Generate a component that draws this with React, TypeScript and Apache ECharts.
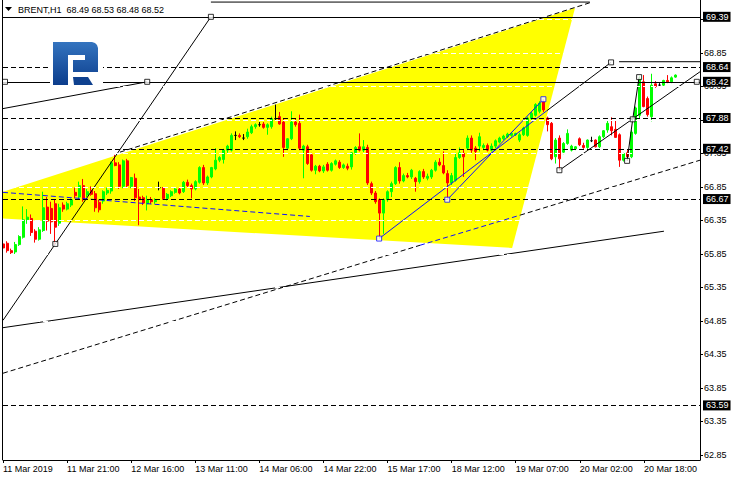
import React, { useEffect, useRef } from "react";
import * as echarts from "echarts";

const FONT = "'Liberation Sans', Arial, sans-serif";

// Hourly BRENT candles (bar index = position in arrays)
const opens = [66.00,66.01,65.90,65.88,65.99,66.10,66.36,66.38,66.19,66.07,66.20,66.55,66.53,66.60,66.31,66.58,66.52,66.58,66.77,66.70,66.87,66.73,66.80,66.75,66.62,66.64,66.76,66.79,67.21,67.18,66.86,67.24,66.86,66.98,66.70,66.69,66.60,66.66,66.63,66.84,66.83,66.68,66.72,66.77,66.82,66.78,66.92,66.87,66.82,66.92,67.14,66.91,67.00,67.12,67.25,67.26,67.40,67.40,67.62,67.62,67.58,67.60,67.66,67.75,67.78,67.79,67.74,67.75,67.87,67.90,67.82,67.43,67.57,67.82,67.80,67.40,67.45,67.33,67.10,67.16,67.09,67.19,67.10,67.19,67.22,67.14,67.16,67.15,67.36,67.45,67.40,67.44,66.90,66.76,66.66,66.46,66.66,66.78,66.90,67.14,66.94,67.02,67.00,66.98,66.93,67.08,66.98,67.00,67.10,67.22,67.17,67.05,66.91,66.95,67.29,67.35,67.43,67.58,67.43,67.46,67.44,67.47,67.40,67.46,67.52,67.57,67.60,67.62,67.63,67.55,67.63,67.62,67.87,67.92,67.98,68.12,67.88,67.80,67.30,67.58,67.37,67.50,67.40,67.42,67.57,67.47,67.44,67.54,67.55,67.45,67.60,67.70,67.75,67.71,67.63,67.25,67.36,67.30,67.65,67.92,68.42,68.17,67.90,68.39,68.37,68.37,68.44,68.42,68.49];
const highs = [66.07,66.04,65.93,66.03,66.13,66.56,66.52,66.44,66.22,66.25,66.78,66.70,66.63,66.66,66.60,66.62,66.63,66.68,66.84,66.93,66.97,66.82,66.86,66.79,66.66,66.80,66.84,67.23,67.33,67.22,67.26,67.27,67.00,67.05,66.82,66.72,66.72,66.70,66.68,66.93,66.85,66.76,66.80,66.84,66.85,66.94,66.96,66.90,66.95,67.16,67.18,67.02,67.15,67.43,67.31,67.42,67.48,67.65,67.68,67.65,67.64,67.72,67.78,67.80,67.82,67.82,67.80,67.90,68.08,67.97,67.88,67.58,67.98,67.87,67.93,67.48,67.48,67.36,67.18,67.18,67.18,67.22,67.22,67.26,67.25,67.20,67.20,67.37,67.46,67.65,67.55,67.48,66.93,66.79,66.68,66.68,66.80,66.93,67.16,67.22,67.05,67.06,67.12,67.00,67.10,67.12,67.05,67.12,67.25,67.28,67.38,67.10,67.06,67.36,67.44,67.40,67.62,67.62,67.46,67.66,67.50,67.50,67.50,67.56,67.60,67.63,67.66,67.67,67.66,67.66,67.75,67.90,67.97,68.10,68.13,68.16,67.90,67.82,67.58,67.62,67.52,67.71,67.48,67.46,67.59,67.51,67.56,67.60,67.56,67.62,67.70,67.85,67.89,67.85,67.65,67.36,67.40,67.70,68.05,68.51,68.52,68.20,68.54,68.43,68.40,68.45,68.52,68.50,68.53];
const lows = [65.91,65.87,65.85,65.84,65.97,66.08,66.30,66.12,66.02,66.05,66.18,66.20,66.15,66.00,66.27,66.48,66.50,66.55,66.68,66.66,66.63,66.70,66.72,66.48,66.47,66.60,66.73,66.75,67.16,66.82,66.83,66.84,66.83,66.64,66.28,66.58,66.50,66.60,66.60,66.80,66.66,66.65,66.70,66.75,66.74,66.76,66.85,66.68,66.80,66.90,66.88,66.88,66.98,67.10,67.22,67.20,67.36,67.38,67.55,67.58,67.55,67.57,67.64,67.72,67.75,67.72,67.63,67.72,67.85,67.78,67.30,67.40,67.55,67.75,67.40,66.98,67.18,67.08,67.04,67.07,67.06,67.08,67.08,67.17,67.12,67.12,67.10,67.11,67.33,67.38,67.37,66.88,66.73,66.60,66.08,66.15,66.63,66.70,66.88,66.90,66.92,66.98,66.97,66.78,66.90,66.97,66.95,66.97,67.08,67.16,67.04,66.66,66.88,66.93,67.27,67.00,67.40,67.36,67.25,67.38,67.40,67.38,67.38,67.43,67.50,67.55,67.58,67.60,67.61,67.52,67.61,67.60,67.85,67.90,67.95,67.97,67.68,67.25,67.20,67.10,67.34,67.48,67.38,67.40,67.46,67.42,67.42,67.52,67.44,67.43,67.58,67.66,67.62,67.59,67.15,67.23,67.24,67.28,67.63,67.88,68.04,67.90,67.83,68.33,68.35,68.35,68.40,68.40,68.48];
const closes = [65.94,65.90,65.87,65.99,66.11,66.36,66.40,66.17,66.07,66.21,66.54,66.34,66.33,66.25,66.54,66.52,66.60,66.66,66.72,66.87,66.66,66.78,66.74,66.54,66.51,66.78,66.80,67.21,67.17,66.86,67.24,66.87,66.99,66.69,66.66,66.61,66.66,66.63,66.65,66.84,66.68,66.74,66.78,66.82,66.76,66.92,66.87,66.82,66.93,67.14,66.91,67.00,67.14,67.25,67.29,67.40,67.46,67.62,67.62,67.60,67.58,67.67,67.75,67.78,67.78,67.74,67.78,67.87,67.87,67.79,67.44,67.57,67.82,67.78,67.43,67.46,67.20,67.10,67.16,67.09,67.15,67.10,67.20,67.24,67.14,67.18,67.13,67.36,67.44,67.40,67.45,66.91,66.76,66.63,66.46,66.66,66.78,66.90,67.14,66.94,67.02,67.00,67.10,66.93,67.08,67.00,67.01,67.10,67.22,67.18,67.06,66.91,67.02,67.29,67.36,67.30,67.58,67.40,67.38,67.60,67.47,67.40,67.46,67.54,67.58,67.61,67.64,67.65,67.65,67.63,67.73,67.88,67.95,68.08,68.10,68.00,67.78,67.27,67.55,67.27,67.50,67.65,67.46,67.45,67.48,67.44,67.55,67.54,67.45,67.60,67.69,67.80,67.69,67.59,67.25,67.35,67.30,67.67,68.03,68.47,68.05,67.93,68.37,68.35,68.37,68.44,68.42,68.48,68.52];

const xTickBars = [0, 16, 32, 48, 64, 80, 96, 112, 128, 144, 160];
const xTickLabels = ["11 Mar 2019", "11 Mar 21:00", "12 Mar 16:00", "13 Mar 11:00", "14 Mar 06:00", "14 Mar 22:00", "15 Mar 17:00", "18 Mar 12:00", "19 Mar 07:00", "20 Mar 02:00", "20 Mar 18:00"];
const yTicks = [62.85, 63.35, 63.85, 64.35, 64.85, 65.35, 65.85, 66.35, 66.85, 67.35, 67.85, 68.35, 68.85, 69.35];
// tick labels fully covered by the level boxes in the reference
const yTicksCovered = [67.85, 69.35];

const levels = [69.39, 68.64, 68.42, 67.88, 67.42, 66.67, 63.59];
const solidLevels = [69.39, 68.42];
const bidPrice = 68.52;

// drawn objects, in [bar index, price]
const yellowZone = [[0, 66.78], [142.8, 69.52], [127.1, 65.94], [0, 66.38]];
const trendBlack = [
  [[0, 68.02], [36, 68.42]],
  [[0, 64.86], [51.9, 69.39]],
  [[0, 64.75], [165, 66.19]],
  [[51.9, 69.61], [146.5, 69.61]],
  [[138.9, 67.10], [174, 68.57]],
  [[155.8, 67.24], [157.2, 67.86], [158.8, 68.49]],
  [[153.8, 68.72], [174, 68.72]],
  [[135.8, 67.99], [151.8, 68.71]],
];
const trendBlue = [
  [[93.9, 66.08], [135.8, 67.99]],
  [[110.9, 66.66], [134.9, 68.16]],
];
const dashedBlack = [
  [[0, 64.07], [104.1, 65.98]],
  [[129.1, 66.43], [174, 67.25]],
  [[29.2, 67.37], [146.5, 69.60]],
];
const dashedBlue = [
  [[0, 66.77], [76.6, 66.41]],
  [[104.1, 65.98], [129.1, 66.43]],
];
const anchorsBlack = [[0.5, 68.42], [173.2, 68.42], [36, 68.42], [13.06, 66.0], [51.9, 69.39], [151.8, 68.71], [138.9, 67.10], [155.8, 67.24], [157.2, 67.86], [158.8, 68.49]];
const anchorsBlue = [[93.9, 66.08], [110.9, 66.66], [134.9, 68.16]];

const DASH = [5, 3];

function lineSeries(pts: number[][], color: string, dashed: boolean) {
  return {
    type: "line",
    data: pts,
    showSymbol: false,
    symbol: "none",
    silent: true,
    z: 4,
    lineStyle: { color, width: 1, type: dashed ? DASH : "solid" },
  };
}

export default function App() {
  const ref = useRef<HTMLDivElement>(null);
  useEffect(() => {
    document.body.style.margin = "0";
    const chart = echarts.init(ref.current!, null, { renderer: "svg" });
    const candleData = opens.map((o, i) => [i, o, closes[i], lows[i], highs[i]]);
    const labelled = yTicks.filter((v) => !yTicksCovered.includes(v));
    const boxLabel = {
      show: true,
      position: "end",
      distance: 3,
      formatter: (p: any) => Number(p.value).toFixed(2),
      backgroundColor: "#000",
      color: "#fff",
      fontSize: 9,
      fontFamily: FONT,
      padding: [1, 2, 0, 3],
    };
    const option: any = {
      animation: false,
      backgroundColor: "#fff",
      grid: { left: 3, right: 40, top: 0, bottom: 20 },
      xAxis: {
        type: "value",
        min: 0,
        max: 174,
        axisLine: { show: true, onZero: false, lineStyle: { color: "#000", width: 1 } },
        axisTick: { show: true, length: 3, customValues: xTickBars, lineStyle: { color: "#000" } },
        axisLabel: {
          customValues: xTickBars,
          formatter: (v: number) => xTickLabels[xTickBars.indexOf(Math.round(v))] ?? "",
          align: "left",
          margin: 4,
          color: "#000",
          fontSize: 9,
          fontFamily: FONT,
        },
        splitLine: { show: false },
      },
      yAxis: {
        type: "value",
        position: "right",
        min: 62.775,
        max: 69.641,
        axisLine: { show: true, onZero: false, lineStyle: { color: "#000", width: 1 } },
        axisTick: { show: true, length: 3, customValues: yTicks, lineStyle: { color: "#000" } },
        axisLabel: {
          customValues: labelled,
          formatter: (v: number) => v.toFixed(2),
          margin: 4,
          color: "#000",
          fontSize: 9,
          fontFamily: FONT,
        },
        splitLine: { show: false },
      },
      series: [
        {
          type: "custom",
          z: 1,
          silent: true,
          data: [[0, 66]],
          renderItem: (_p: any, api: any) => ({
            type: "polygon",
            shape: { points: yellowZone.map((v) => api.coord(v)) },
            style: { fill: "#ffff00" },
            silent: true,
          }),
        },
        {
          type: "line",
          data: [],
          z: 2,
          silent: true,
          markLine: {
            silent: true,
            symbol: "none",
            label: { show: false },
            lineStyle: { color: "#fff", width: 1, type: DASH },
            data: yTicks.map((v) => ({ yAxis: v })),
          },
        },
        {
          type: "candlestick",
          z: 3,
          barWidth: 2.5,
          encode: { x: 0, y: [1, 2, 3, 4] },
          data: candleData,
          itemStyle: {
            color: "#00ff00",
            color0: "#ff0000",
            borderColor: "#00ff00",
            borderColor0: "#ff0000",
            borderColorDoji: "#000000",
            borderWidth: 1,
          },
        },
        ...trendBlack.map((p) => lineSeries(p, "#000", false)),
        ...trendBlue.map((p) => lineSeries(p, "#1010ff", false)),
        ...dashedBlack.map((p) => lineSeries(p, "#000", true)),
        ...dashedBlue.map((p) => lineSeries(p, "#1010ff", true)),
        {
          type: "scatter",
          z: 5,
          silent: true,
          symbol: "rect",
          symbolSize: 5,
          data: anchorsBlack,
          itemStyle: { color: "#fff", borderColor: "#000", borderWidth: 1 },
        },
        {
          type: "scatter",
          z: 5,
          silent: true,
          symbol: "rect",
          symbolSize: 5,
          data: anchorsBlue,
          itemStyle: { color: "#fff", borderColor: "#1010ff", borderWidth: 1 },
        },
        {
          type: "line",
          data: [],
          z: 6,
          silent: true,
          markLine: {
            silent: true,
            symbol: "none",
            data: [{ yAxis: bidPrice, lineStyle: { opacity: 0, width: 0 }, label: boxLabel }],
          },
        },
        {
          type: "line",
          data: [],
          z: 7,
          silent: true,
          markLine: {
            silent: true,
            symbol: "none",
            data: levels.map((v) => ({
              yAxis: v,
              lineStyle: { color: "#000", width: 1, type: solidLevels.includes(v) ? "solid" : DASH },
              label: boxLabel,
            })),
          },
        },
      ],
      graphic: [
        { type: "line", z: 50, shape: { x1: 2.5, y1: 0, x2: 2.5, y2: 460 }, style: { stroke: "#000", lineWidth: 1 } },
        { type: "polygon", z: 50, shape: { points: [[5, 7], [12, 7], [8.5, 11]] }, style: { fill: "#000" } },
        {
          type: "text",
          z: 50,
          x: 18,
          y: 10,
          style: {
            text: "BRENT,H1  68.49 68.53 68.48 68.52",
            fill: "#000",
            fontSize: 9,
            fontFamily: FONT,
            textVerticalAlign: "middle",
          },
        },
        { type: "rect", z: 60, shape: { x: 50, y: 37, width: 53, height: 52 }, style: { fill: "#fff" } },
        {
          type: "polygon",
          z: 61,
          shape: {
            points: [[53, 42], [92, 42], [95, 43], [97, 45], [98, 48], [98, 72], [73, 72], [73, 60], [85, 60], [85, 55], [68, 55], [68, 85], [53, 85]],
          },
          style: {
            fill: new echarts.graphic.LinearGradient(0, 0, 0, 1, [
              { offset: 0, color: "#3474bf" },
              { offset: 1, color: "#0c3d8c" },
            ]),
          },
        },
        {
          type: "polygon",
          z: 61,
          shape: { points: [[73, 77], [88, 77], [93, 85], [74, 85]] },
          style: { fill: "#0f418f" },
        },
      ],
    };
    chart.setOption(option);
    return () => chart.dispose();
  }, []);
  return <div ref={ref} style={{ width: 740, height: 480 }} />;
}
